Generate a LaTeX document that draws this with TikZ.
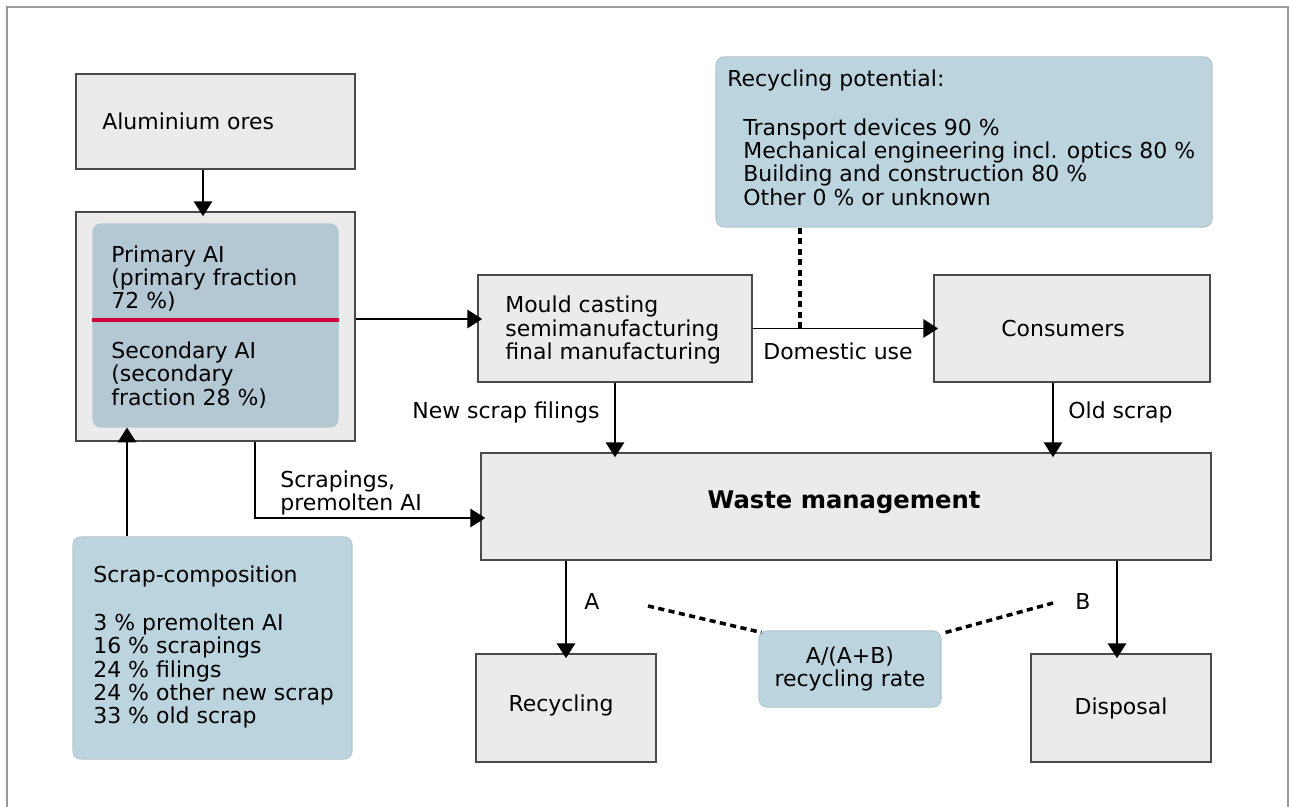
\documentclass[tikz,border=0pt]{standalone}
\usepackage{fontspec}
\setmainfont{DejaVu Sans}
\usetikzlibrary{arrows.meta}
\definecolor{boxgray}{HTML}{EBEBEB}
\definecolor{boxline}{HTML}{4A4A4A}
\definecolor{boxblue}{HTML}{BCD4DE}
\definecolor{innerblue}{HTML}{B3C8D3}
\definecolor{sepred}{HTML}{D0043C}
\definecolor{framegray}{HTML}{9A9A9A}

\begin{document}
\begin{tikzpicture}[x=0.02cm,y=-0.02cm,
	font=\fontsize{12.5}{13.3}\selectfont,
	boxsize/.style 2 args={minimum width=#1*0.02cm,minimum height=#2*0.02cm},
	graybox/.style={draw=boxline,fill=boxgray,line width=0.9pt,inner sep=0},
	bluebox/.style={draw=boxblue!85!gray,fill=boxblue,line width=0.6pt,rounded corners=4.5pt,inner sep=0},
	txt/.style={inner sep=0,align=left,anchor=west},
	arr/.style={line width=1.1pt,-{Triangle[width=10.5pt,length=8.5pt]},shorten >=-0.1cm},
	dots/.style={line width=2pt,dash pattern=on 3.5pt off 2.5pt}]
		\useasboundingbox (0,0) rectangle (1289,807);
		%frame
		\draw[framegray,line width=1.2pt] (7,807) -- (7,7) -- (1288,7) -- (1288,807);
		%ores and primary/secondary Al
		\node[graybox,boxsize={279}{95}] (ores) at (215.5,121.5) {};
		\node[txt] (ores-t) at (102,121) {Aluminium ores};
		\node[graybox,boxsize={279}{229}] (outer) at (215.5,326.5) {};
		\node[bluebox,fill=innerblue,boxsize={245}{203}] (inner) at (215.5,325.5) {};
		\draw[sepred,line width=2.2pt] ([yshift=0.11cm]inner.west) -- ([yshift=0.11cm]inner.east);
		\node[txt] (prim-t) at (111,278.5) {Primary AI\\(primary fraction\\72 \%)};
		\node[txt] (sec-t) at (111,375) {Secondary AI\\(secondary\\fraction 28 \%)};
		%scrap composition
		\node[bluebox,boxsize={279}{222}] (scrap) at (212.5,648) {};
		\node[txt] (scrap-title) at (93,576) {Scrap-composition};
		\node[txt] (scrap-list) at (93,671) {3 \% premolten AI\\16 \% scrapings\\24 \% filings\\24 \% other new scrap\\33 \% old scrap};
		%manufacturing and use
		\node[graybox,boxsize={274}{107}] (mould) at (615,328.5) {};
		\node[txt] (mould-t) at (505,330) {Mould casting\\semimanufacturing\\final manufacturing};
		\node[graybox,boxsize={276}{107}] (cons) at (1072,328.5) {};
		\node[txt] (cons-t) at (1001,329) {Consumers};
		\node[bluebox,boxsize={496}{170}] (pot) at (964,142) {};
		\node[txt] (pot-title) at (727,80) {Recycling potential:};
		\node[txt] (pot-list) at (743,162) {Transport devices 90 \%\\Mechanical engineering incl. optics 80 \%\\Building and construction 80 \%\\Other 0 \% or unknown};
		%waste management
		\node[graybox,boxsize={730}{107}] (waste) at (846,506.5) {};
		\node[inner sep=0] (waste-t) at (844,502) {\fontsize{13.8}{14}\selectfont\bfseries Waste management};
		\node[graybox,boxsize={180}{108}] (recyc) at (566,708) {};
		\node[inner sep=0] (recyc-t) at (561,705) {Recycling};
		\node[graybox,boxsize={180}{108}] (disp) at (1121,708) {Disposal};
		\node[bluebox,boxsize={182}{76},align=center] (rate) at (850,669) {A/(A+B)\\recycling rate};
		%labels
		\node[txt] (dom) at (763,351) {Domestic use};
		\node[txt] (newscrap) at (412,412) {New scrap filings};
		\node[txt] (oldscrap) at (1068,412) {Old scrap};
		\node[txt] (scrapings) at (280,493) {Scrapings,\\premolten AI};
		\node[inner sep=0] (lab-a) at (592,601) {A};
		\node[inner sep=0] (lab-b) at (1083,601) {B};
		\coordinate (rate-l) at (648,606);
		\coordinate (rate-r) at (1053,603);
		%flows
		\draw[arr] ([xshift=-0.25cm]ores.south) -- ([xshift=-0.25cm]outer.north);
		\draw[arr] ([yshift=0.15cm]outer.east) -- ([yshift=0.15cm]outer.east -| mould.west);
		\draw[arr] (mould.east) -- (cons.west);
		\draw[dots] ([xshift=-3.28cm]pot.south) -- ([xshift=-3.28cm]pot.south |- mould.east);
		\draw[arr] (mould.south) -- (mould.south |- waste.north);
		\draw[arr] ([xshift=-0.38cm]cons.south) -- ([xshift=-0.38cm]cons.south |- waste.north);
		\draw[arr] ([xshift=0.79cm]outer.south) |- ([yshift=-0.23cm]waste.west);
		\draw[arr,shorten >=0] ([xshift=-1.71cm]scrap.north) -- ([xshift=-1.71cm]scrap.north |- inner.south);
		\draw[arr] (recyc.north |- waste.south) -- (recyc.north);
		\draw[arr] ([xshift=-0.08cm]disp.north |- waste.south) -- ([xshift=-0.08cm]disp.north);
		%recycling rate
		\draw[dots] (rate-l) -- ([xshift=0.06cm,yshift=-0.04cm]rate.north west);
		\draw[dots] ([xshift=0.08cm,yshift=-0.04cm]rate.north east) -- (rate-r);
\end{tikzpicture}
\end{document}
